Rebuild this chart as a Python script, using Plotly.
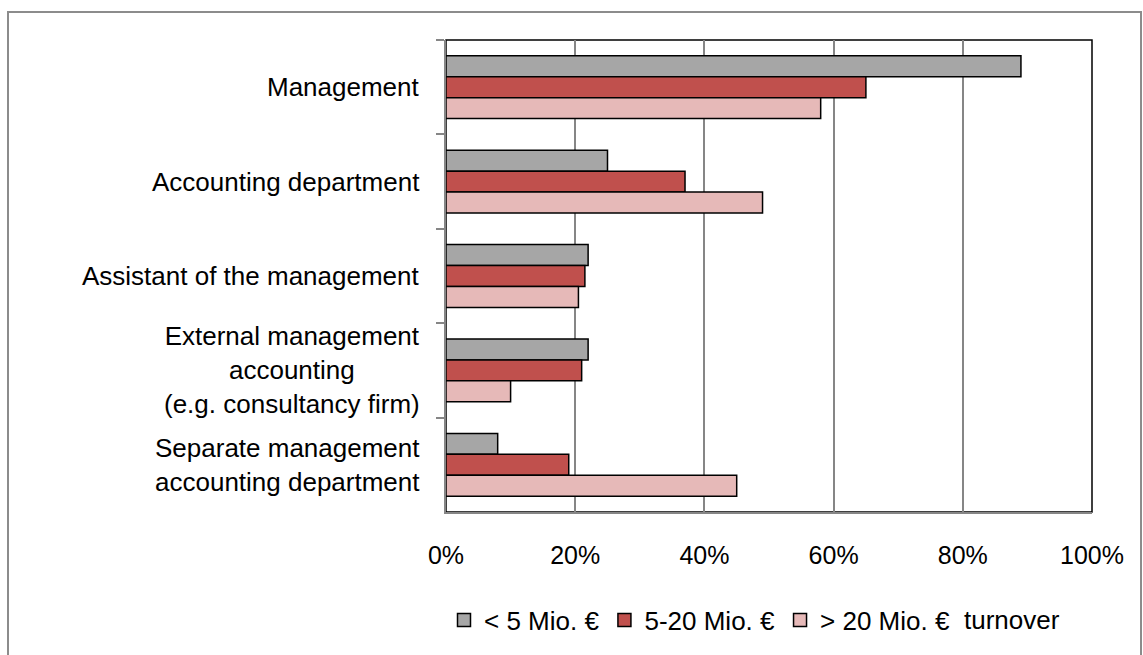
import plotly.graph_objects as go

categories = [
    "Management",
    "Accounting department",
    "Assistant of the management",
    "External management<br>accounting<br>(e.g. consultancy firm)",
    "Separate management<br>accounting department",
]
series_names = ["< 5 Mio. €", "5-20 Mio. €", "> 20 Mio. €"]
small = [0.89, 0.25, 0.22, 0.22, 0.08]
medium = [0.65, 0.37, 0.215, 0.21, 0.19]
large = [0.58, 0.49, 0.205, 0.10, 0.45]
colors = ["#A6A6A6", "#C0504D", "#E6B9B8"]
x_ticks = [0, 0.2, 0.4, 0.6, 0.8, 1.0]
x_ticktext = ["0%", "20%", "40%", "60%", "80%", "100%"]
legend_suffix = "turnover"

FONT = "Liberation Sans, Arial, sans-serif"
GRAY = "#868686"

fig = go.Figure()
for name, vals, col in zip(series_names, [small, medium, large], colors):
    fig.add_trace(go.Bar(
        y=categories, x=vals, name=name, orientation="h", showlegend=False,
        marker=dict(color=col, line=dict(color="black", width=1.5)),
    ))
# legend entries with larger square swatches
for name, col in zip(series_names, colors):
    fig.add_trace(go.Scatter(
        x=[None], y=[None], mode="markers", name=name,
        marker=dict(symbol="square", size=13, color=col,
                    line=dict(color="black", width=1.5)),
    ))

W, H = 1143, 655
L, R, T, B = 446, 51, 40, 143
pw, ph = W - L - R, H - T - B

def px_x(p):
    return (p - L) / pw

def px_y(p):
    return (H - B - p) / ph

annotations = []
for c in categories:
    annotations.append(dict(
        x=0, xref="paper", y=c, yref="y", xshift=-24,
        xanchor="right", yanchor="middle", align="center",
        text=c, showarrow=False,
        font=dict(family=FONT, size=26, color="black"),
    ))
annotations.append(dict(
    x=px_x(962), xref="paper", y=px_y(620), yref="paper",
    xanchor="left", yanchor="middle", text=legend_suffix, showarrow=False,
    font=dict(family=FONT, size=26, color="black"),
))

shapes = [
    dict(type="rect", xref="paper", yref="paper", x0=0, x1=1, y0=0, y1=1,
         line=dict(color="black", width=1.5), layer="below"),
    dict(type="rect", xref="paper", yref="paper",
         x0=px_x(8), x1=px_x(1141), y0=px_y(12), y1=px_y(680),
         line=dict(color="#8C8C8C", width=2), layer="below"),
]

fig.update_layout(
    width=W, height=H,
    margin=dict(l=L, r=R, t=T, b=B, pad=0),
    paper_bgcolor="white", plot_bgcolor="white",
    barmode="group", bargap=0.335, bargroupgap=0,
    font=dict(family=FONT, size=25, color="black"),
    showlegend=True,
    legend=dict(
        orientation="h", x=px_x(444), xanchor="left",
        y=px_y(620), yanchor="middle",
        font=dict(family=FONT, size=26, color="black"),
        bgcolor="rgba(0,0,0,0)", itemclick=False,
    ),
    annotations=annotations,
    shapes=shapes,
)
fig.update_xaxes(
    range=[0, 1], tickvals=x_ticks, ticktext=x_ticktext,
    showgrid=True, gridcolor=GRAY, gridwidth=1.5,
    zeroline=False, showline=True, linecolor=GRAY, linewidth=2,
    ticks="", ticklabelstandoff=20,
    tickfont=dict(family=FONT, size=25, color="black"),
)
fig.update_yaxes(
    type="category", autorange="reversed",
    showline=True, linecolor=GRAY, linewidth=2,
    ticks="outside", tickson="boundaries", ticklen=8, tickcolor=GRAY, tickwidth=2,
    showticklabels=False, showgrid=False, zeroline=False,
)

fig.write_html("out.html")
